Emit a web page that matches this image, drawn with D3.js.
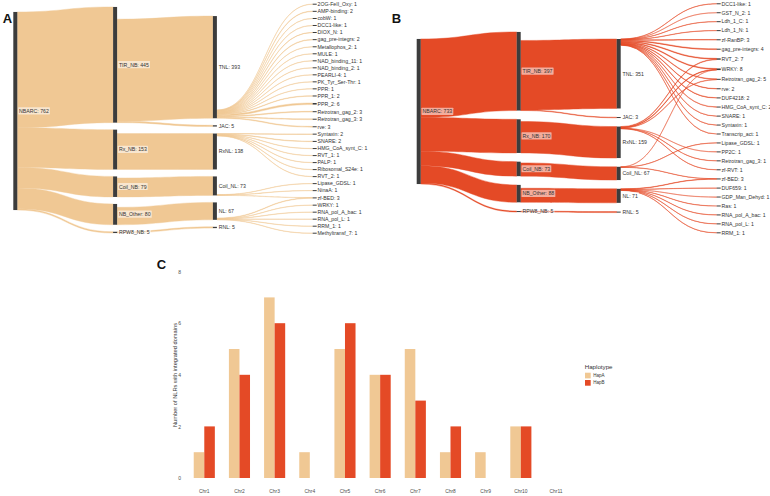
<!DOCTYPE html>
<html><head><meta charset="utf-8">
<script src="https://cdn.jsdelivr.net/npm/d3@7"></script>
<style>
body{margin:0;background:#fff}
svg{display:block}
text{font-family:"Liberation Sans",Arial,Helvetica,sans-serif}
</style>
</head><body>
<svg id="chart" width="770" height="496"></svg>
<script>
// ================= DATA =================
const stageNodes = [
  ["NBARC"],
  ["TIR_NB", "Rx_NB", "Coil_NB", "NB_Other", "RPW8_NB"],
  ["TNL", "JAC", "RxNL", "Coil_NL", "NL", "RNL"]
];
const hapAStageValues = [[762], [445, 153, 79, 80, 5], [393, 5, 138, 73, 67, 5]];
const hapBStageValues = [[733], [397, 170, 73, 88, 5], [351, 3, 159, 67, 71, 5]];

const hapADomains = ["2OG-FeII_Oxy", "AMP-binding", "cobW", "DCC1-like", "DIOX_N", "gag_pre-integrs",
  "Metallophos_2", "MULE", "NAD_binding_11", "NAD_binding_2", "PEARLI-4", "PK_Tyr_Ser-Thr", "PPR",
  "PPR_1", "PPR_2", "Retrotran_gag_2", "Retrotran_gag_3", "rve", "Syntaxin", "SNARE", "HMG_CoA_synt_C",
  "RVT_1", "PALP", "Ribosomal_S24e", "RVT_2", "Lipase_GDSL", "NinaA", "zf-BED", "WRKY",
  "RNA_pol_A_bac", "RNA_pol_L", "RRM_1", "Methyltransf_7"];
const hapADomainValues = [1, 2, 1, 1, 1, 2, 1, 1, 1, 1, 1, 1, 1, 2, 6, 3, 3, 3, 2, 2, 1, 1, 1, 1, 1, 1, 1, 3, 1, 1, 1, 1, 1];

const hapBDomains = ["DCC1-like", "GST_N_2", "Ldh_1_C", "Ldh_1_N", "zf-RanBP", "gag_pre-integrs", "RVT_2",
  "WRKY", "Retrotran_gag_2", "rve", "DUF4218", "HMG_CoA_synt_C", "SNARE", "Syntaxin", "Transcrip_act",
  "Lipase_GDSL", "PP2C", "Retrotran_gag_3", "zf-RVT", "zf-BED", "DUF659", "GDP_Man_Dehyd", "Ras",
  "RNA_pol_A_bac", "RNA_pol_L", "RRM_1"];
const hapBDomainValues = [1, 1, 1, 1, 3, 4, 7, 8, 5, 2, 2, 2, 1, 1, 1, 1, 1, 1, 1, 3, 1, 1, 1, 1, 1, 1];

const hapALinks = [
  ["NBARC", "TIR_NB", 445], ["NBARC", "Rx_NB", 153], ["NBARC", "Coil_NB", 79], ["NBARC", "NB_Other", 80], ["NBARC", "RPW8_NB", 5],
  ["TIR_NB", "TNL", 393], ["TIR_NB", "JAC", 5], ["Rx_NB", "RxNL", 138], ["Coil_NB", "Coil_NL", 73], ["NB_Other", "NL", 67], ["RPW8_NB", "RNL", 5],
  ["TNL", "2OG-FeII_Oxy", 1], ["TNL", "AMP-binding", 2], ["TNL", "cobW", 1], ["TNL", "DCC1-like", 1], ["TNL", "DIOX_N", 1],
  ["TNL", "gag_pre-integrs", 2], ["TNL", "Metallophos_2", 1], ["TNL", "MULE", 1], ["TNL", "NAD_binding_11", 1],
  ["TNL", "NAD_binding_2", 1], ["TNL", "PEARLI-4", 1], ["TNL", "PK_Tyr_Ser-Thr", 1], ["TNL", "PPR", 1], ["TNL", "PPR_1", 2],
  ["TNL", "PPR_2", 6], ["TNL", "Retrotran_gag_2", 3], ["TNL", "Retrotran_gag_3", 3], ["TNL", "rve", 3],
  ["RxNL", "Syntaxin", 2], ["RxNL", "SNARE", 2], ["RxNL", "HMG_CoA_synt_C", 1], ["RxNL", "RVT_1", 1], ["RxNL", "PALP", 1],
  ["RxNL", "Ribosomal_S24e", 1], ["RxNL", "RVT_2", 1],
  ["Coil_NL", "Lipase_GDSL", 1], ["Coil_NL", "NinaA", 1], ["Coil_NL", "zf-BED", 1],
  ["NL", "zf-BED", 2], ["NL", "WRKY", 1], ["NL", "RNA_pol_A_bac", 1], ["NL", "RNA_pol_L", 1], ["NL", "RRM_1", 1], ["NL", "Methyltransf_7", 1]
];

const hapBLinks = [
  ["NBARC", "TIR_NB", 397], ["NBARC", "Rx_NB", 170], ["NBARC", "Coil_NB", 73], ["NBARC", "NB_Other", 88], ["NBARC", "RPW8_NB", 5],
  ["TIR_NB", "TNL", 351], ["TIR_NB", "JAC", 3], ["Rx_NB", "RxNL", 159], ["Coil_NB", "Coil_NL", 67], ["NB_Other", "NL", 71], ["RPW8_NB", "RNL", 5],
  ["TNL", "DCC1-like", 1], ["TNL", "GST_N_2", 1], ["TNL", "Ldh_1_C", 1], ["TNL", "Ldh_1_N", 1], ["TNL", "zf-RanBP", 3],
  ["TNL", "gag_pre-integrs", 4], ["TNL", "RVT_2", 4], ["TNL", "WRKY", 4], ["TNL", "Retrotran_gag_2", 3], ["TNL", "rve", 2],
  ["TNL", "DUF4218", 2], ["TNL", "HMG_CoA_synt_C", 2], ["TNL", "SNARE", 1], ["TNL", "Syntaxin", 1], ["TNL", "Transcrip_act", 1],
  ["RxNL", "RVT_2", 3], ["RxNL", "WRKY", 3], ["RxNL", "Retrotran_gag_2", 2], ["RxNL", "PP2C", 1], ["RxNL", "Retrotran_gag_3", 1], ["RxNL", "zf-RVT", 1],
  ["Coil_NL", "WRKY", 1], ["Coil_NL", "Lipase_GDSL", 1], ["Coil_NL", "zf-BED", 1],
  ["NL", "zf-BED", 2], ["NL", "DUF659", 1], ["NL", "GDP_Man_Dehyd", 1], ["NL", "Ras", 1], ["NL", "RNA_pol_A_bac", 1], ["NL", "RNA_pol_L", 1], ["NL", "RRM_1", 1]
];

const chromosomes = ["Chr1", "Chr2", "Chr3", "Chr4", "Chr5", "Chr6", "Chr7", "Chr8", "Chr9", "Chr10", "Chr11"];
const hapACounts = [1, 5, 7, 1, 5, 4, 5, 1, 1, 2, 0];
const hapBCounts = [2, 4, 6, 0, 6, 4, 3, 2, 0, 2, 0];
const haplotypes = ["HapA", "HapB"];
const yTickValues = [0, 2, 4, 6, 8];

// ================= STYLE =================
const TAN = "#F0C894", RED = "#E44A26", NODE = "#3C3C3C", TXT = "#333";
const svg = d3.select("#chart");

// ================= SANKEY =================
function drawSankey(cols, vals, links, cfg) {
  const g = svg.append("g");
  const h = d3.scaleLinear().domain([0, vals[0][0]]).range([0, cfg.firstHeight]);
  const xCol = d3.scaleLinear().domain([0, 1]).range([cfg.x0, cfg.x0 + cfg.step]);
  const nodeW = 4;
  const nodes = new Map();
  cols.forEach((names, ci) => {
    const hs = vals[ci].map(v => h(v));
    const total = d3.sum(hs) + cfg.gaps[ci] * (names.length - 1);
    let y = cfg.centers[ci] - total / 2;
    names.forEach((name, i) => {
      nodes.set(name, {name, col: ci, value: vals[ci][i], x0: xCol(ci), x1: xCol(ci) + nodeW,
        y0: y, y1: y + hs[i], outs: [], ins: []});
      y += hs[i] + cfg.gaps[ci];
    });
  });
  const ls = links.map(([s, t, v]) => ({s: nodes.get(s), t: nodes.get(t), v, w: h(v)}));
  ls.forEach(l => { l.s.outs.push(l); l.t.ins.push(l); });
  nodes.forEach(n => {
    n.outs.sort((a, b) => a.t.y0 - b.t.y0);
    const tot = d3.sum(n.outs, l => l.w);
    let y = cfg.align(n) === "top" ? n.y0 : n.y1 - tot;
    n.outs.forEach(l => { l.sy0 = y; y += l.w; l.sy1 = y; });
    n.ins.sort((a, b) => a.s.y0 - b.s.y0);
    let y2 = n.y0;
    n.ins.forEach(l => { l.ty0 = y2; y2 += l.w; l.ty1 = y2; });
  });
  // flows
  g.append("g").selectAll("path").data(ls).join("path")
    .attr("d", l => {
      const x0 = l.s.x1, x1 = l.t.x0, xm = (x0 + x1) / 2;
      return `M${x0},${l.sy0}C${xm},${l.sy0} ${xm},${l.ty0} ${x1},${l.ty0}` +
             `L${x1},${l.ty1}C${xm},${l.ty1} ${xm},${l.sy1} ${x0},${l.sy1}Z`;
    })
    .attr("fill", cfg.color)
    .attr("stroke", cfg.color)
    .attr("stroke-width", cfg.lineW)
    .attr("stroke-opacity", cfg.lineOp);
  const nodeArr = Array.from(nodes.values());
  // nodes
  g.append("g").selectAll("rect").data(nodeArr).join("rect")
    .attr("x", n => n.x0).attr("width", nodeW)
    .attr("y", n => Math.min(n.y0, (n.y0 + n.y1) / 2 - 0.5))
    .attr("height", n => Math.max(n.y1 - n.y0, 1))
    .attr("fill", NODE);
  // labels
  const lg = g.append("g");
  nodeArr.forEach(n => {
    const cy = (n.y0 + n.y1) / 2;
    const isDomain = n.col === 3;
    const tx = n.x1 + (isDomain ? 0.8 : 1.8);
    const box = lg.append("rect");
    const t = lg.append("text")
      .attr("x", tx).attr("y", cy).attr("dy", "0.35em")
      .attr("font-size", 5.2).attr("fill", TXT)
      .text(`${n.name}: ${n.value}`);
    if (!isDomain) {
      const bb = t.node().getBBox();
      box.attr("x", bb.x - 1).attr("y", bb.y - 0.6).attr("width", bb.width + 2).attr("height", bb.height + 1.2)
        .attr("rx", 0.6).attr("fill", "#fff").attr("fill-opacity", 0.55);
    } else box.remove();
  });
}

drawSankey(
  [...stageNodes, hapADomains],
  [...hapAStageValues, hapADomainValues],
  hapALinks,
  {x0: 13.3, step: 99.8, firstHeight: 198.1, centers: [111, 120, 122.1, 118.7], gaps: [7, 7, 7, 6.75],
   align: n => n.name === "RxNL" ? "top" : "bottom", color: TAN, lineW: 0.45, lineOp: 0.9}
);
drawSankey(
  [...stageNodes, hapBDomains],
  [...hapBStageValues, hapBDomainValues],
  hapBLinks,
  {x0: 416.7, step: 100, firstHeight: 145.1, centers: [111.5, 122, 125.8, 118.3], gaps: [8.75, 8.75, 8.75, 8.75],
   align: n => n.col === 2 ? "top" : "bottom", color: RED, lineW: 0.5, lineOp: 0.85}
);

// panel letters
[["A", 2.7, 23.3], ["B", 391.7, 22.7], ["C", 156.7, 269]].forEach(([s, x, y]) => {
  svg.append("text").attr("x", x).attr("y", y).attr("font-size", 13).attr("font-weight", "bold")
    .attr("fill", "#111").text(s);
});

// ================= BAR CHART (C) =================
const gc = svg.append("g");
const x0 = d3.scaleBand().domain(chromosomes).range([186.7, 573.6]).padding(0);
const x1 = d3.scaleBand().domain(haplotypes).range([0, x0.step() * 0.6]);
const y = d3.scaleLinear().domain([0, 8]).range([478, 271.6]);
const color = d3.scaleOrdinal().domain(haplotypes).range([TAN, RED]);
const barData = [];
chromosomes.forEach((c, i) => {
  barData.push({c, hap: "HapA", v: hapACounts[i]});
  barData.push({c, hap: "HapB", v: hapBCounts[i]});
});
gc.append("g").selectAll("rect").data(barData.filter(d => d.v > 0)).join("rect")
  .attr("x", d => x0(d.c) + x0.step() * 0.2 + x1(d.hap))
  .attr("width", x1.bandwidth())
  .attr("y", d => y(d.v))
  .attr("height", d => y(0) - y(d.v))
  .attr("fill", d => color(d.hap));

const yAxis = gc.append("g").attr("transform", "translate(183.2,0)")
  .call(d3.axisLeft(y).tickValues(yTickValues).tickSize(0).tickPadding(2.2));
yAxis.select(".domain").remove();
yAxis.selectAll("text").attr("font-size", 5).attr("fill", "#4D4D4D").attr("font-family", null);

const xAxis = gc.append("g").attr("transform", "translate(0,478)")
  .call(d3.axisBottom(x0).tickSize(0).tickPadding(12));
xAxis.select(".domain").remove();
xAxis.selectAll("text").attr("font-size", 4.9).attr("fill", "#4D4D4D").attr("font-family", null);

gc.append("text").attr("transform", "translate(175,375) rotate(-90)")
  .attr("text-anchor", "middle").attr("dy", "0.35em").attr("font-size", 5.7).attr("fill", TXT)
  .text("Number of NLRs with integrated domains");

// legend
const lgd = gc.append("g");
lgd.append("text").attr("x", 584.7).attr("y", 367).attr("dy", "0.35em").attr("font-size", 6.2).attr("fill", TXT).text("Haplotype");
haplotypes.forEach((hp, i) => {
  lgd.append("rect").attr("x", 585).attr("y", 372.7 + i * 7.3).attr("width", 5.7).attr("height", 5.7).attr("fill", color(hp));
  lgd.append("text").attr("x", 593.3).attr("y", 375.5 + i * 7.3).attr("dy", "0.35em").attr("font-size", 4.5).attr("fill", TXT).text(hp);
});
</script>
</body></html>
